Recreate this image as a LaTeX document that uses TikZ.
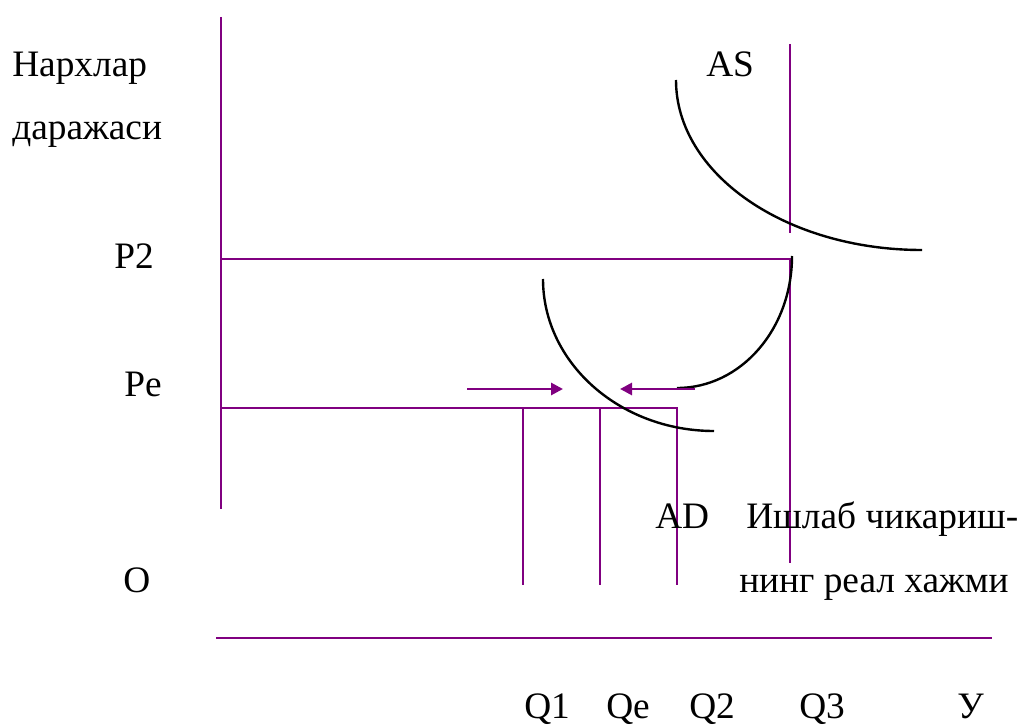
\documentclass[tikz,border=0pt]{standalone}
\usepackage{fontspec}
\setmainfont{Liberation Serif}
\usepackage{tikz}
\usetikzlibrary{arrows.meta,positioning}
\definecolor{axispurple}{RGB}{128,0,128}
\tikzset{
  axisline/.style={axispurple,line width=2.1pt},
  curveline/.style={black,line width=1.8pt},
  shiftarrow/.style={axispurple,line width=2.1pt,-{Triangle[length=9pt,width=9pt]}},
  lbl/.style={anchor=base west,inner sep=0pt,font=\fontsize{28}{33}\selectfont}
}

\begin{document}
\begin{tikzpicture}[x=0.75pt,y=-0.75pt]
  \useasboundingbox (0,0) rectangle (1022,727);
  % axes
  \coordinate (ytop) at (221,17);
  \coordinate (ybot) at (221,509);
  \coordinate (xleft) at (216,638);
  \coordinate (xright) at (992,638);
  \draw[axisline] (ytop) -- (ybot);
  \draw[axisline] (xleft) -- (xright);
  % price levels and outputs
  \coordinate (p2a) at (221,259);
  \coordinate (p2b) at (790,259);
  \coordinate (q3b) at (790,563);
  \coordinate (q3t) at (790,44);
  \coordinate (q3m) at (790,233);
  \draw[axisline] (p2a) -- (p2b) -- (q3b);
  \draw[axisline] (q3t) -- (q3m);
  \coordinate (pea) at (221,408);
  \coordinate (peb) at (677,408);
  \coordinate (q2b) at (677,585);
  \draw[axisline] (pea) -- (peb) -- (q2b);
  \foreach \nm/\xx in {q1/523,qe/600} {
    \coordinate (\nm t) at (\xx,408);
    \coordinate (\nm b) at (\xx,585);
    \draw[axisline] (\nm t) -- (\nm b);
  }
  % curves
  \coordinate (as0) at (676,80);
  \coordinate (as1) at (922,250);
  \draw[curveline] (as0) .. controls (676,174) and (786,250) .. (as1);
  \coordinate (ad0) at (543,279);
  \coordinate (ad1) at (714,431);
  \draw[curveline] (ad0) .. controls (543,363) and (620,431) .. (ad1);
  \coordinate (sh0) at (792,256);
  \coordinate (sh1) at (677,388);
  \draw[curveline] (sh0) .. controls (792,329) and (741,388) .. (sh1);
  % arrows
  \coordinate (ra0) at (467,389);
  \coordinate (ra1) at (563,389);
  \coordinate (la0) at (695,389);
  \coordinate (la1) at (620,389);
  \draw[shiftarrow] (ra0) -- (ra1);
  \draw[shiftarrow] (la0) -- (la1);
  % labels
  \node[lbl] (ylab1) at (12,77) {Нархлар};
  \node[lbl] (ylab2) at (12,140) {даражаси};
  \node[lbl] (p2lab) at (114,269) {P2};
  \node[lbl] (pelab) at (124,397) {Pe};
  \node[lbl] (olab) at (123,592) {O};
  \node[lbl] (aslab) at (706,77) {AS};
  \node[lbl] (adlab) at (655,528) {AD};
  \node[lbl] (xlab1) at (746,528) {Ишлаб чикариш-};
  \node[lbl] (xlab2) at (739,592) {нинг реал хажми};
  \node[lbl] (q1lab) at (524,718) {Q1};
  \node[lbl] (qelab) at (606,718) {Qe};
  \node[lbl] (q2lab) at (689,718) {Q2};
  \node[lbl] (q3lab) at (799,718) {Q3};
  \node[lbl] (ylab) at (957,718) {У};
\end{tikzpicture}
\end{document}
